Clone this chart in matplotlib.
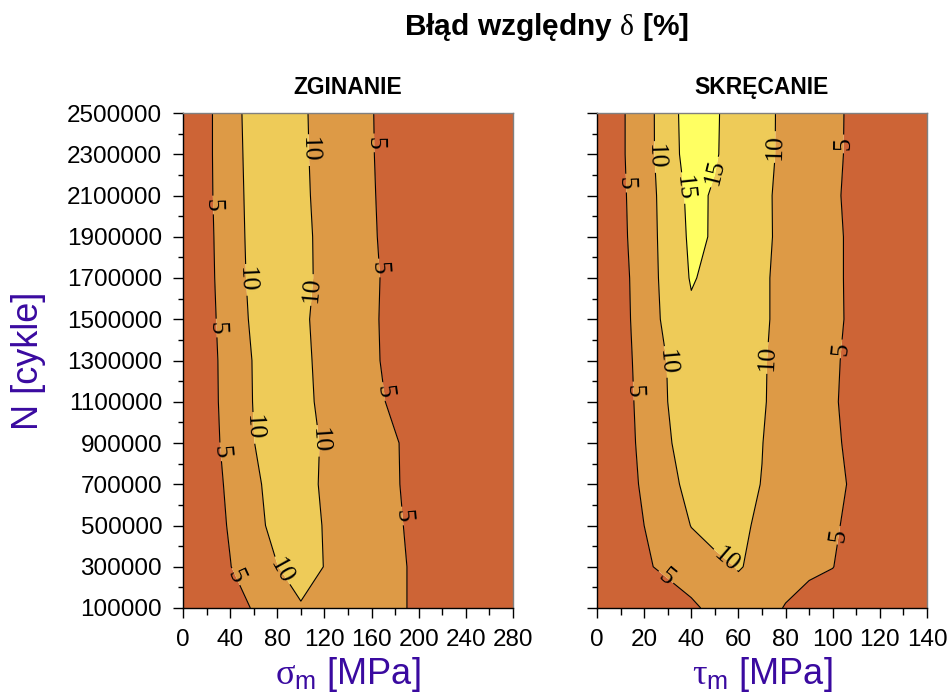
import numpy as np
import matplotlib
matplotlib.use('Agg')
import matplotlib.pyplot as plt
from matplotlib.ticker import MultipleLocator

plt.rcParams['font.family'] = ['Liberation Sans', 'DejaVu Sans']
plt.rcParams['mathtext.fontset'] = 'custom'
plt.rcParams['mathtext.rm'] = 'Liberation Serif'
plt.rcParams['mathtext.sf'] = 'Liberation Sans'
plt.rcParams['mathtext.it'] = 'Liberation Serif:italic'

# ---------------- data ----------------
N_cycles = [100000, 300000, 500000, 700000, 900000, 1100000, 1300000,
            1500000, 1700000, 1900000, 2100000, 2300000, 2500000]
sigma_m = [0, 20, 40, 60, 80, 100, 120, 140, 160, 180, 200, 220, 240, 260, 280]
tau_m = [0, 10, 20, 30, 40, 50, 60, 70, 80, 90, 100, 110, 120, 130, 140]

# relative error delta [%] for bending (rows: N_cycles, cols: sigma_m)
delta_bending = [
    [2.0, 2.8, 3.8, 5.2, 8.0, 9.6, 8.6, 7.8, 7.0, 6.0, 4.0, 2.2, 1.4, 0.9, 0.6],
    [2.0, 3.0, 4.9, 7.0, 9.9, 12.0, 9.9, 8.2, 7.2, 6.0, 4.0, 2.2, 1.4, 0.9, 0.6],
    [2.0, 3.3, 5.3, 8.5, 11.5, 12.5, 9.7, 8.4, 7.0, 5.8, 3.5, 2.0, 1.3, 0.9, 0.6],
    [2.0, 3.5, 5.6, 9.0, 12.0, 12.8, 9.0, 7.8, 6.8, 5.5, 3.0, 1.8, 1.2, 0.9, 0.6],
    [2.0, 3.7, 6.0, 9.9, 12.5, 13.0, 9.2, 7.8, 6.8, 5.4, 3.0, 1.8, 1.2, 0.9, 0.6],
    [2.0, 3.8, 6.2, 10.2, 13.5, 12.6, 8.0, 7.0, 6.4, 4.0, 2.0, 1.4, 1.0, 0.8, 0.6],
    [2.0, 3.8, 6.3, 10.3, 13.5, 11.8, 8.0, 6.8, 6.0, 3.2, 1.8, 1.3, 1.0, 0.8, 0.6],
    [2.0, 3.9, 6.6, 11.0, 13.8, 11.3, 7.8, 6.7, 5.9, 3.0, 1.8, 1.3, 1.0, 0.8, 0.6],
    [2.0, 4.0, 6.9, 11.5, 14.2, 12.2, 8.0, 6.8, 6.0, 3.2, 1.8, 1.3, 1.0, 0.8, 0.6],
    [2.0, 4.1, 7.0, 11.8, 14.0, 12.0, 8.0, 6.7, 5.8, 2.5, 1.6, 1.2, 1.0, 0.8, 0.6],
    [2.0, 4.2, 7.2, 12.0, 13.8, 11.5, 7.8, 6.6, 5.6, 2.2, 1.5, 1.2, 1.0, 0.8, 0.6],
    [2.0, 4.2, 7.4, 12.2, 13.6, 11.2, 7.7, 6.5, 5.4, 2.0, 1.5, 1.2, 1.0, 0.8, 0.6],
    [2.0, 4.2, 7.4, 12.6, 13.5, 11.0, 7.7, 6.5, 5.3, 2.0, 1.5, 1.2, 1.0, 0.8, 0.6],
]

# relative error delta [%] for torsion (rows: N_cycles, cols: tau_m)
delta_torsion = [
    [1.5, 2.0, 2.5, 3.0, 4.0, 6.5, 8.5, 7.0, 4.7, 3.0, 2.5, 2.0, 1.8, 1.6, 1.5],
    [2.0, 3.2, 4.5, 5.8, 8.0, 9.0, 10.2, 9.2, 7.2, 6.0, 5.1, 3.0, 2.3, 2.0, 1.5],
    [2.0, 3.2, 5.0, 7.6, 10.1, 11.5, 10.8, 9.3, 7.4, 6.6, 5.7, 3.5, 2.5, 2.0, 1.5],
    [2.0, 3.4, 5.5, 8.5, 11.5, 12.3, 11.2, 9.9, 7.5, 6.8, 6.0, 4.3, 2.6, 2.0, 1.5],
    [2.0, 3.6, 5.8, 9.5, 12.3, 12.8, 11.8, 10.1, 7.7, 6.6, 5.8, 3.7, 2.5, 2.0, 1.5],
    [2.0, 3.7, 6.0, 10.0, 13.2, 13.0, 12.0, 10.5, 7.8, 6.6, 5.5, 3.4, 2.5, 2.0, 1.5],
    [2.0, 3.8, 6.2, 10.2, 13.5, 13.3, 12.2, 10.6, 7.8, 6.8, 5.7, 3.5, 2.5, 2.0, 1.5],
    [2.0, 3.9, 6.5, 11.6, 14.3, 13.8, 12.4, 11.0, 8.0, 6.9, 6.0, 3.9, 2.5, 2.0, 1.5],
    [2.0, 4.0, 6.6, 12.2, 15.3, 14.0, 12.5, 11.0, 8.0, 6.9, 6.0, 3.8, 2.5, 2.0, 1.5],
    [2.0, 4.2, 6.9, 12.4, 15.7, 14.7, 12.8, 11.6, 8.0, 6.9, 6.0, 3.8, 2.5, 2.0, 1.5],
    [2.0, 4.3, 7.1, 12.6, 16.0, 14.6, 12.8, 11.5, 8.0, 6.8, 5.8, 3.5, 2.5, 2.0, 1.5],
    [2.0, 4.4, 7.5, 13.2, 16.8, 15.4, 13.0, 11.9, 8.5, 7.0, 6.0, 3.8, 2.5, 2.0, 1.5],
    [2.0, 4.4, 7.5, 13.3, 17.0, 15.5, 13.0, 12.0, 8.5, 7.0, 6.0, 3.9, 2.5, 2.0, 1.5],
]

contour_levels = [5, 10, 15]
fill_levels = [0, 5, 10, 15, 25]
fill_colors = ['#CD6436', '#DD9A46', '#EECB58', '#FFFF62']

y_major = list(range(100000, 2500001, 200000))
y_minor = list(range(100000, 2500001, 100000))

# label anchor positions (layout only)
label_pos_bending = [(106, 2320000), (160, 2355000), (25.5, 2054000), (51, 1690000),
                     (109.5, 1642000), (165.5, 1748000), (27, 1457000), (167, 1147000),
                     (59.4, 973000), (114.5, 910000), (29.7, 856000), (185.8, 546000),
                     (44, 250000), (82.3, 275000)]
label_pos_torsion = [(23.3, 2286000), (11.9, 2160000), (36.5, 2136000), (49.6, 2214000),
                     (75.5, 2335000), (104.4, 2350000), (28.4, 1293000), (14.8, 1152000),
                     (72.5, 1312000), (103.9, 1356000), (104.4, 449000), (55.6, 347000),
                     (27.6, 226000)]

label_color = '#3A0AA0'

fig = plt.figure(figsize=(9.5, 7), dpi=100)
W, H = 950.0, 700.0
ax1 = fig.add_axes([183 / W, (H - 608) / H, 330 / W, 495 / H])
ax2 = fig.add_axes([597 / W, (H - 608) / H, 330 / W, 495 / H])


def draw_panel(ax, xs, Z, xmax, xmaj, xmin_step, label_pos, title, xlabel, ylabels):
    X, Y = np.meshgrid(np.array(xs, float), np.array(N_cycles, float))
    Zarr = np.array(Z, float)
    ax.contourf(X, Y, Zarr, levels=fill_levels, colors=fill_colors, antialiased=True)
    cs = ax.contour(X, Y, Zarr, levels=contour_levels, colors='black', linewidths=0.8)
    with plt.rc_context({'font.family': ['Liberation Serif']}):
        ax.clabel(cs, manual=label_pos, inline=True, fmt='%d', fontsize=18.5,
                  inline_spacing=3)
    ax.set_xlim(0, xmax)
    ax.set_ylim(100000, 2500000)
    ax.xaxis.set_major_locator(MultipleLocator(xmaj))
    ax.xaxis.set_minor_locator(MultipleLocator(xmin_step))
    ax.set_yticks(y_major)
    ax.set_yticks(y_minor, minor=True)
    if ylabels:
        ax.set_yticklabels([str(v) for v in y_major])
    else:
        ax.set_yticklabels([])
    ax.tick_params(axis='both', which='major', direction='out', length=7, width=1,
                   labelsize=17.5, pad=8)
    ax.tick_params(axis='y', which='minor', direction='out', length=3.5, width=1)
    ax.tick_params(axis='x', which='minor', direction='out', length=5, width=1)
    ax.tick_params(axis='x', which='major', pad=8)
    for s in ['top', 'right']:
        ax.spines[s].set_color('#808080')
        ax.spines[s].set_linewidth(1.0)
    for s in ['left', 'bottom']:
        ax.spines[s].set_color('black')
        ax.spines[s].set_linewidth(1.0)
    ax.set_title(title, fontsize=16.5, fontweight='bold', pad=14)
    ax.set_xlabel(xlabel, fontsize=26, color=label_color, labelpad=3)


draw_panel(ax1, sigma_m, delta_bending, 280, 40, 20, label_pos_bending,
           'ZGINANIE', r'$\mathrm{\sigma}_\mathsf{m}$ [MPa]', True)
draw_panel(ax2, tau_m, delta_torsion, 140, 20, 10, label_pos_torsion,
           'SKRĘCANIE', r'$\mathrm{\tau}_\mathsf{m}$ [MPa]', False)

ax1.set_ylabel('N [cykle]', fontsize=26, color=label_color, labelpad=15)

fig.text(546.5 / W, (H - 27) / H, r'Błąd względny $\mathrm{\delta}$ [%]',
         fontsize=21.5, fontweight='bold', ha='center', va='center')

fig.savefig('out.png', dpi=100)
